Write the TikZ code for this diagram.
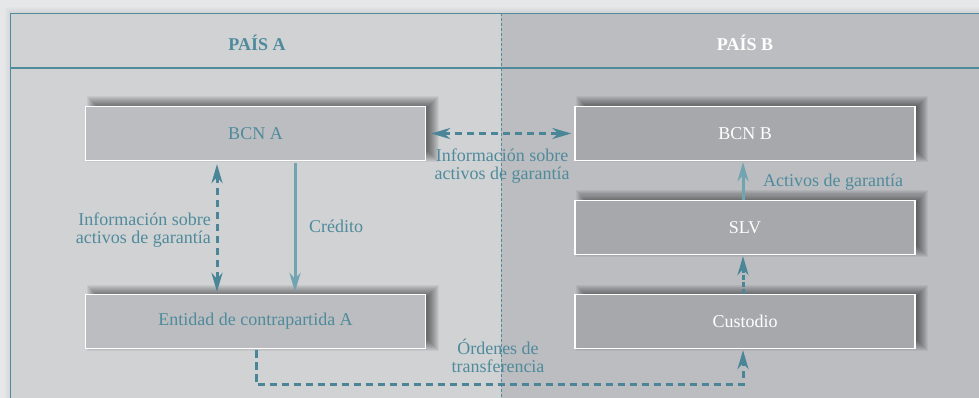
\documentclass[tikz,border=0pt]{standalone}
\usepackage{fontspec}
\setmainfont{Liberation Serif}
\usetikzlibrary{arrows.meta}
\definecolor{pagebg}{HTML}{E6E7E9}
\definecolor{leftbg}{HTML}{D1D2D4}
\definecolor{rightbg}{HTML}{BCBDC0}
\definecolor{boxA}{HTML}{BCBDC0}
\definecolor{boxB}{HTML}{A7A8AB}
\definecolor{teal}{HTML}{4F8B9C}
\definecolor{tealdark}{HTML}{4A8697}
\definecolor{teallight}{HTML}{72A3B1}
\newcommand\boxshadow[2]{%
  \foreach \k in {0,...,11}{%
    \fill[black, opacity=0.05] ({#1-170+7+5-\k},{#2-27-4+5-\k}) rectangle ({#1+170+7-5+\k},{#2+27-4-5+\k});
  }}
\tikzset{
  boxstyle/.style={draw=white, line width=1.3pt, minimum width=340pt, minimum height=54pt,
    inner sep=0pt, font=\fontsize{18}{18}\selectfont},
  boxa/.style={boxstyle, fill=boxA, text=teal},
  boxb/.style={boxstyle, fill=boxB, text=white},
  lbl/.style={text=teal, font=\fontsize{18}{18}\selectfont, inner sep=0pt, align=center},
  dasharrow/.style={draw=tealdark, line width=3pt, dash pattern=on 7.5pt off 4.5pt,
    -{Stealth[length=19pt,width=11pt,inset=6pt]}},
  dashdouble/.style={dasharrow, {Stealth[length=19pt,width=11pt,inset=6pt]}-{Stealth[length=19pt,width=11pt,inset=6pt]}},
  solidarrow/.style={draw=teallight, line width=3pt, -{Stealth[length=19pt,width=11pt,inset=6pt]}},
  header/.style={font=\bfseries\fontsize{18}{18}\selectfont, inner sep=0pt}
}
\begin{document}
\begin{tikzpicture}[x=1pt,y=-1pt]
\useasboundingbox (0,0) rectangle (979,398);
\fill[pagebg] (0,0) rectangle (979,398);
% frame with soft shadow
\foreach \k in {1,...,6}{\fill[black, opacity=0.012] (10.5-\k,13.5-\k) rectangle (1000,420);}
\fill[leftbg] (10.5,13.5) rectangle (1000,420);
\fill[rightbg] (501,13.5) rectangle (1000,420);
\draw[teal, line width=1.2pt] (1000,13.5) -- (10.5,13.5) -- (10.5,420);
\draw[teal, line width=1.2pt] (10.5,68) -- (1000,68);
\draw[teal, line width=0.9pt, dash pattern=on 3pt off 2pt] (501,13.5) -- (501,420);
% headers
\node[header, text=teal] (hA) at (257,43) {PAÍS A};
\node[header, text=white] (hB) at (745,43) {PAÍS B};
% shadows
\boxshadow{255.5}{133.5}
\boxshadow{255.5}{321.5}
\boxshadow{745}{133.5}
\boxshadow{745}{227.5}
\boxshadow{745}{321.5}
% boxes
\node[boxa] (bcna) at (255.5,133.5) {BCN A};
\node[boxa] (ent) at (255.5,321.5) {Entidad de contrapartida A};
\node[boxb] (bcnb) at (745,133.5) {BCN B};
\node[boxb] (slv) at (745,227.5) {SLV};
\node[boxb] (cust) at (745,321.5) {Custodio};
% arrows
\draw[dashdouble, shorten <=5pt, shorten >=3pt] (bcna.east) -- (bcnb.west);
\draw[dashdouble, shorten <=3pt, shorten >=2pt] ([xshift=-38.5pt]bcna.south) -- ([xshift=-38.5pt]ent.north);
\draw[solidarrow, shorten <=2pt, shorten >=2pt] ([xshift=39.5pt]bcna.south) -- ([xshift=39.5pt]ent.north);
\draw[solidarrow, shorten <=0pt, shorten >=1pt] ([xshift=-2pt]slv.north) -- ([xshift=-2pt]bcnb.south);
\draw[dasharrow, dash pattern=on 5pt off 2pt, shorten <=0pt, shorten >=1pt] ([xshift=-2pt]cust.north) -- ([xshift=-2pt]slv.south);
\draw[dasharrow, line join=miter, shorten <=1pt, shorten >=1pt] ([xshift=0.5pt]ent.south) -- ++(0,35.5) -| ([xshift=-2pt]cust.south);
% labels
\node[lbl] (l1) at (502,166) {Información sobre\\activos de garantía};
\node[lbl, align=right, anchor=east] (l2) at (211,230.5) {Información sobre\\activos de garantía};
\node[lbl, anchor=west] (l3) at (309,226) {Crédito};
\node[lbl, anchor=west] (l4) at (763,182) {Activos de garantía};
\node[lbl] (l5) at (498,356) {Órdenes de\\transferencia};
\end{tikzpicture}
\end{document}
